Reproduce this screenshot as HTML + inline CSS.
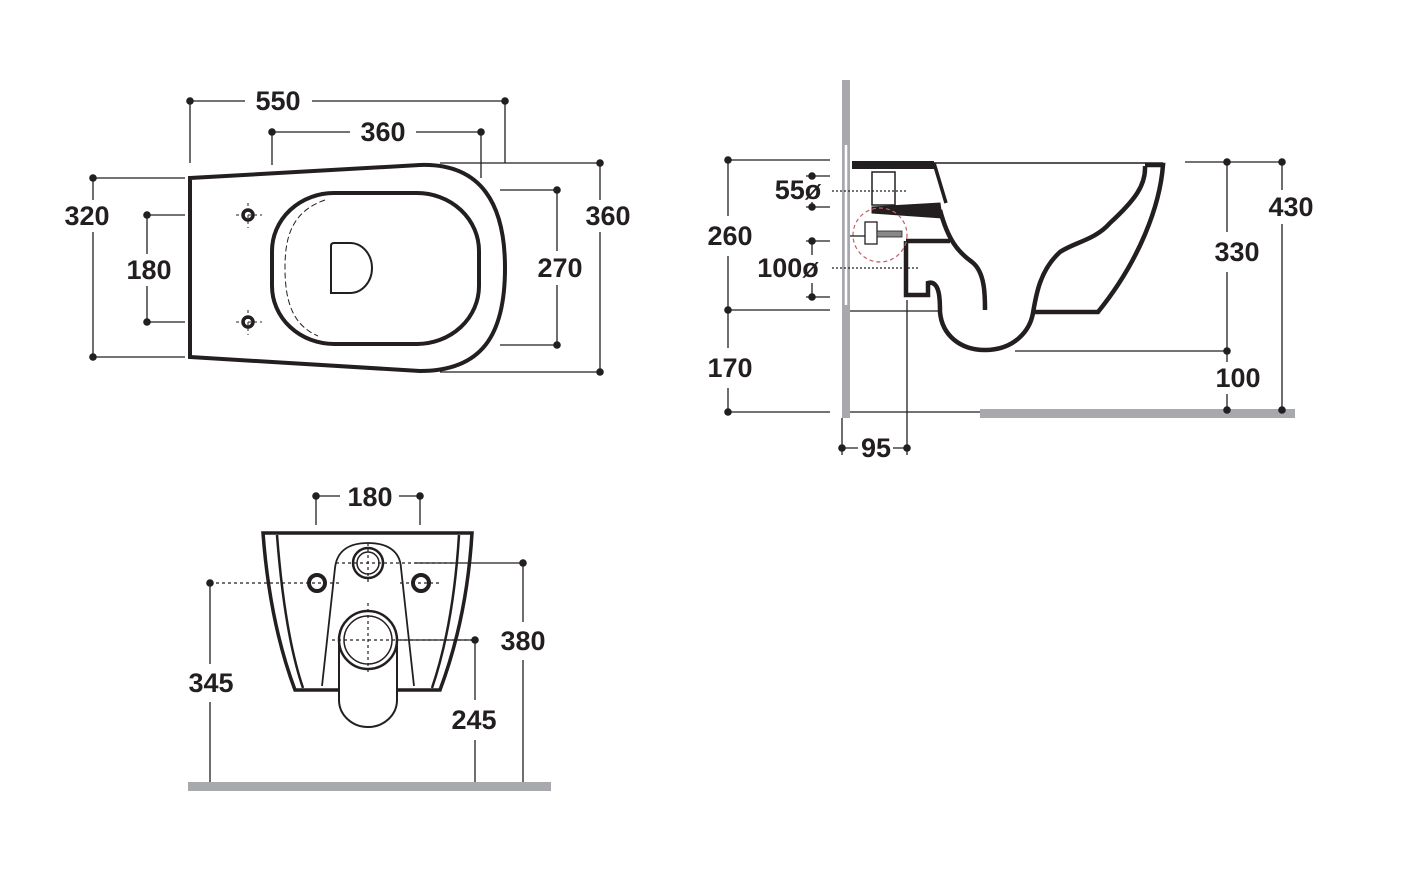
<!DOCTYPE html>
<html><head><meta charset="utf-8"><style>
html,body{margin:0;padding:0;background:#fff;}
svg{display:block}
text{font-family:"Liberation Sans",sans-serif;font-weight:bold;font-size:27px;fill:#231f20;text-anchor:middle;dominant-baseline:central}
</style></head><body>
<svg width="1411" height="877" viewBox="0 0 1411 877" xmlns="http://www.w3.org/2000/svg">
<defs>
<g id="d"><circle r="3.8" fill="#231f20"/></g>
</defs>
<!-- ========== TOP VIEW ========== -->
<g stroke="#231f20" fill="none">
<path d="M190,178 L420,165 C482,163 505,205 505,268 C505,335 482,371 420,371 L190,357 Z" stroke-width="4"/>
<rect x="272" y="193" width="207" height="151" rx="62" ry="58" stroke-width="4"/>
<path d="M325,200 C290,212 285,240 285,268 C285,300 292,325 318,336" stroke-width="1" stroke-dasharray="6,3"/>
<path d="M331,246 L331,293 Q331,293 350,293 A22,25 0 0 0 350,243 L334,243 Q331,243 331,246 Z" stroke-width="2"/>
<circle cx="248" cy="215" r="5" stroke-width="3.5"/>
<circle cx="248" cy="322" r="5" stroke-width="3.5"/>
<g stroke-width="1" stroke-dasharray="3,3"><path d="M236,215H262M248,203V228M236,322H262M248,310V335"/></g>
<!-- dims -->
<g stroke-width="1.3">
<path d="M190,101H245M312,101H505M190,101V163M505,101V163"/>
<path d="M272,132H350M416,132H481M272,132V165M481,132V178"/>
<path d="M93,178V200M93,232V357M93,178H185M93,357H185"/>
<path d="M147,215V254M147,286V322M147,215H185M147,322H185"/>
<path d="M557,190V251M557,285V345M500,190H557M500,345H557"/>
<path d="M600,163V200M600,232V372M440,163H600M440,372H600"/>
</g>
</g>
<g>
<use href="#d" x="190" y="101"/><use href="#d" x="505" y="101"/>
<use href="#d" x="272" y="132"/><use href="#d" x="481" y="132"/>
<use href="#d" x="93" y="178"/><use href="#d" x="93" y="357"/>
<use href="#d" x="147" y="215"/><use href="#d" x="147" y="322"/>
<use href="#d" x="557" y="190"/><use href="#d" x="557" y="345"/>
<use href="#d" x="600" y="163"/><use href="#d" x="600" y="372"/>
</g>
<text x="278" y="101">550</text>
<text x="383" y="132">360</text>
<text x="87" y="216">320</text>
<text x="149" y="270">180</text>
<text x="560" y="268">270</text>
<text x="608" y="216">360</text>

<!-- ========== SIDE VIEW ========== -->
<rect x="842" y="80" width="8" height="338" fill="#a7a9ac"/>
<line x1="846" y1="145" x2="846" y2="305" stroke="#fff" stroke-width="2.5"/>
<rect x="980" y="409" width="315" height="9" fill="#a7a9ac"/>
<path d="M850,412H980" stroke="#231f20" stroke-width="1.2"/>
<g stroke="#231f20" fill="none">
<path d="M852,163H1163" stroke-width="1.5"/>
<rect x="852" y="161" width="82" height="8" fill="#231f20" stroke="none"/>
<path d="M934,163L946,203" stroke-width="3.5"/>
<rect x="872" y="172" width="23" height="33" stroke-width="1.5" fill="#fff"/>
<path d="M872,207L940,203L942,218L872,213Z" fill="#231f20" stroke-width="1"/>
<path d="M940,210 C948,240 958,252 972,262 C985,272 985,295 985,310" stroke-width="4.5"/>
<path d="M906,241H950M906,241V295H928V283 C940,280 940,300 940,312 C942,335 960,350 985,350 C1015,350 1030,330 1033,313 C1036,295 1040,270 1060,252 C1075,242 1095,240 1110,223 C1135,200 1146,185 1145,166" stroke-width="4.5"/>
<path d="M1145,165H1163 C1160,205 1140,260 1098,312 L1033,312" stroke-width="4.5"/>
<path d="M850,311H938" stroke-width="1.3"/>
<circle cx="880" cy="235" r="27" stroke="#c0606a" stroke-width="1.2" stroke-dasharray="4,3"/>
<rect x="865" y="222" width="12" height="22" fill="#fff" stroke-width="1.3"/>
<rect x="877" y="231" width="25" height="6" fill="#888" stroke-width="0.8"/>
<path d="M850,236H865" stroke-width="1.3"/>
<g stroke-width="1.3" stroke-dasharray="2,2"><path d="M832,191H907M832,268H918"/></g>
<g stroke-width="1.3">
<path d="M728,160V216M728,256V348M728,388V412M728,160H830M728,310H830M728,412H830"/>
<path d="M812,176V179M812,202V207M806,176H830M806,207H830"/>
<path d="M812,241V255M812,283V297M806,241H830M806,297H830"/>
<path d="M1227,162V232M1227,272V351M1185,162H1282M1015,351H1227M1227,351V362M1227,394V410"/>
<path d="M1282,162V190M1282,224V410"/>
<path d="M907,300V455M842,418V455M842,448H858M893,448H907"/>
</g>
</g>
<g>
<use href="#d" x="728" y="160"/><use href="#d" x="728" y="310"/><use href="#d" x="728" y="412"/>
<use href="#d" x="812" y="176"/><use href="#d" x="812" y="207"/>
<use href="#d" x="812" y="241"/><use href="#d" x="812" y="297"/>
<use href="#d" x="1227" y="162"/><use href="#d" x="1227" y="351"/><use href="#d" x="1227" y="410"/>
<use href="#d" x="1282" y="162"/><use href="#d" x="1282" y="410"/>
<use href="#d" x="842" y="448"/><use href="#d" x="907" y="448"/>
</g>
<text x="730" y="236">260</text>
<text x="730" y="368">170</text>
<text x="798" y="190">55ø</text>
<text x="788" y="268">100ø</text>
<text x="1237" y="252">330</text>
<text x="1238" y="378">100</text>
<text x="1291" y="207">430</text>
<text x="876" y="448">95</text>

<!-- ========== FRONT VIEW ========== -->
<rect x="188" y="782" width="363" height="9" fill="#a7a9ac"/>
<g stroke="#231f20" fill="none">
<path d="M263,533H472 C468,600 455,650 440,690 H295 C280,650 268,600 263,533 Z" stroke-width="3.5"/>
<path d="M277,535 C282,600 290,650 303,688 M459,535 C455,600 445,650 432,688" stroke-width="2.5"/>
<path d="M322,686 L335,568 C337,550 350,543 368,543 C386,543 400,550 401,568 L414,686" stroke-width="1.8" fill="#fff"/>
<circle cx="368" cy="563" r="15" stroke-width="2.5"/>
<circle cx="368" cy="563" r="11" stroke-width="1.5"/>
<circle cx="317" cy="583" r="8" stroke-width="4"/>
<circle cx="421" cy="583" r="8" stroke-width="4"/>
<path d="M339,640 V700 A29,27 0 0 0 397,700 V640" stroke-width="2" fill="#fff"/>
<circle cx="368" cy="640" r="29" stroke-width="2.5" fill="#fff"/>
<circle cx="368" cy="640" r="24" stroke-width="1.5"/>
<g stroke-width="1.2" stroke-dasharray="3,3"><path d="M336,563H455M368,543V583M210,583H340M400,583H440M332,640H475M368,603V675"/></g>
<g stroke-width="1.3">
<path d="M316,496H340M399,496H420M316,496V525M420,496V525"/>
<path d="M210,583V664M210,702V782"/>
<path d="M523,563V622M523,660V782M415,563H523"/>
<path d="M475,640V700M475,740V782M400,640H475"/>
</g>
</g>
<g>
<use href="#d" x="316" y="496"/><use href="#d" x="420" y="496"/>
<use href="#d" x="210" y="583"/><use href="#d" x="523" y="563"/><use href="#d" x="475" y="640"/>
</g>
<text x="370" y="497">180</text>
<text x="211" y="683">345</text>
<text x="523" y="641">380</text>
<text x="474" y="720">245</text>
</svg>
</body></html>
